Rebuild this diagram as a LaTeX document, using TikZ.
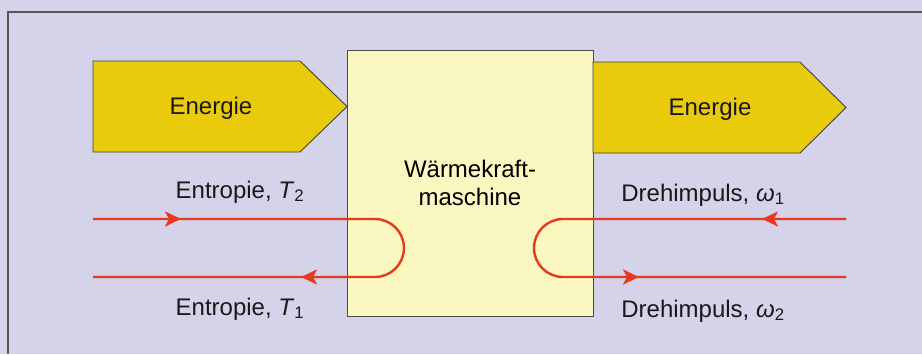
\documentclass[tikz,border=0pt]{standalone}
\usepackage{fontspec}
\setmainfont{Liberation Sans}
\usepackage{tikz}
\usetikzlibrary{arrows.meta,positioning,calc}
\definecolor{bgblue}{HTML}{D4D3E9}
\definecolor{energy}{HTML}{EACB0C}
\definecolor{machine}{HTML}{FAF7C0}
\definecolor{flowred}{HTML}{E63A1E}
\definecolor{frame}{HTML}{5E5255}
\newcommand{\lbl}[2]{#1, \textit{#2}}

\begin{document}
\begin{tikzpicture}[
  x=1pt, y=-1pt,
  font=\fontsize{24}{28}\selectfont,
  txt/.style={inner sep=0pt, anchor=base, text=black!90},
  pfeil/.style={draw=black!75, line width=0.9pt, fill=energy},
  box/.style={draw=black!70, line width=0.9pt, fill=machine, minimum width=246pt, minimum height=266pt, align=center, inner sep=0pt},
  flow/.style={draw=flowred, line width=2.4pt},
  arr/.style={flow, -{Stealth[length=16pt,width=15pt,inset=4pt]}}
]
\useasboundingbox (0,0) rectangle (922,354);
\fill[bgblue] (0,0) rectangle (922,354);
\draw[frame, line width=1.3pt] (922,12) -- (8,12) -- (8,354);

% energy in / out
\draw[pfeil] (93,61) -- (300,61) -- (347,106.5) -- (300,152) -- (93,152) -- cycle;
\node[box] (wkm) at (470,183) {W\"armekraft-\\maschine};
\draw[pfeil] (593,62) -- (800,62) -- (846,107.5) -- (800,153) -- (593,153) -- cycle;
\node[txt] (ein) at (211,114) {Energie};
\node[txt] (aus) at (710,115) {Energie};

% entropy loop
\coordinate (s1) at (93,219);
\coordinate (s2) at (93,277);
\coordinate (sl) at (375,219);
\coordinate (sr) at (375,277);
\coordinate (sa) at (181,219);
\coordinate (sb) at (301,277);
\draw[flow] (s1) -- (sl) arc[start angle=-90, end angle=90, radius=29] -- (s2);
\draw[arr] (s1) -- (sa);
\draw[arr] (sr) -- (sb);

% angular momentum loop
\coordinate (d1) at (846,219);
\coordinate (d2) at (846,277);
\coordinate (dl) at (563,219);
\coordinate (dr) at (563,277);
\coordinate (da) at (762,219);
\coordinate (db) at (639,277);
\draw[flow] (d1) -- (dl) arc[start angle=-90, end angle=-270, radius=29] -- (d2);
\draw[arr] (d1) -- (da);
\draw[arr] (dr) -- (db);

\node[txt] (t2) at (240,198) {\lbl{Entropie}{T}\textsubscript{2}};
\node[txt] (t1) at (240,315) {\lbl{Entropie}{T}\textsubscript{1}};
\node[txt] (w1) at (703,201) {\lbl{Drehimpuls}{ω}\textsubscript{1}};
\node[txt] (w2) at (703,317) {\lbl{Drehimpuls}{ω}\textsubscript{2}};
\end{tikzpicture}
\end{document}
